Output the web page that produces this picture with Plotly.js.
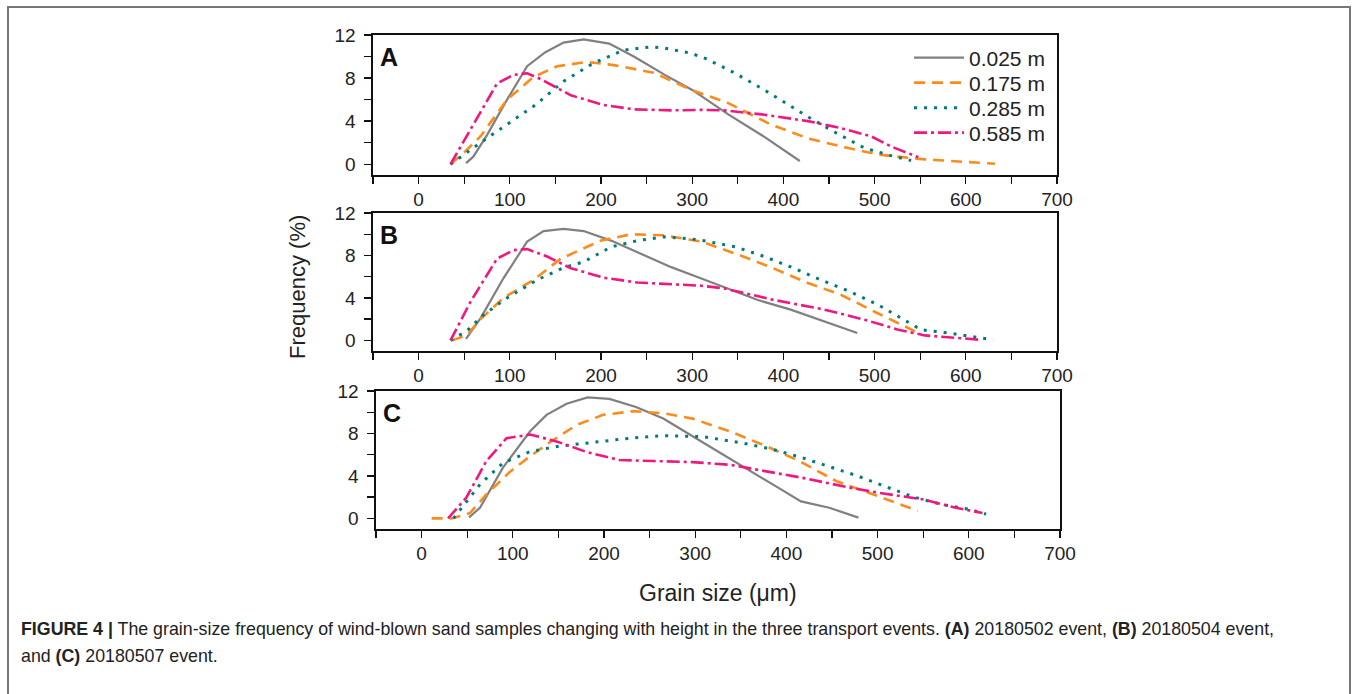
<!DOCTYPE html>
<html>
<head>
<meta charset="utf-8">
<script src="https://cdn.plot.ly/plotly-3.0.1.min.js"></script>
<style>html,body{margin:0;padding:0;background:#fff;}#chart{width:1356px;height:694px;}</style>
</head>
<body>
<div id="chart"></div>
<script>
// ---------- data (grain size in µm, frequency in %) ----------
const seriesNames = ['0.025 m', '0.175 m', '0.285 m', '0.585 m'];
const panelLabels = ['A', 'B', 'C'];
const xTickVals = [0, 100, 200, 300, 400, 500, 600, 700];
const yTickVals = [0, 4, 8, 12];

// Panel A (20180502 event)
const A025x = [52, 60, 75, 97, 119, 139, 159, 181, 209, 236, 270, 300, 340, 380, 418];
const A025y = [0.1, 0.7, 2.7, 6.0, 9.1, 10.4, 11.3, 11.6, 11.2, 10.0, 8.3, 6.9, 4.6, 2.5, 0.3];
const A175x = [35, 50, 68, 97, 126, 152, 185, 214, 258, 299, 339, 386, 427, 471, 504, 548, 592, 632];
const A175y = [0, 1.1, 2.6, 6.0, 8.1, 9.1, 9.5, 9.2, 8.5, 6.9, 5.7, 3.7, 2.4, 1.5, 0.9, 0.5, 0.25, 0.05];
const A285x = [35, 51, 68, 97, 128, 159, 192, 225, 255, 269, 299, 315, 346, 379, 408, 427, 458, 489, 518, 540];
const A285y = [0, 1.0, 2.0, 3.7, 5.5, 7.7, 9.4, 10.6, 10.9, 10.8, 10.3, 9.8, 8.5, 6.9, 5.4, 4.4, 2.9, 1.5, 0.8, 0.35];
const A585x = [35, 57, 86, 104, 119, 134, 167, 203, 236, 277, 310, 335, 379, 427, 463, 496, 518, 548];
const A585y = [0, 3.2, 7.5, 8.3, 8.45, 7.9, 6.4, 5.5, 5.1, 5.0, 5.05, 5.0, 4.6, 4.0, 3.35, 2.6, 1.65, 0.65];

// Panel B (20180504 event)
const B025x = [52, 68, 93, 119, 137, 159, 181, 211, 240, 277, 305, 343, 372, 408, 445, 481];
const B025y = [0.15, 2.1, 5.85, 9.3, 10.3, 10.5, 10.3, 9.4, 8.3, 6.9, 6.0, 4.75, 3.8, 2.9, 1.8, 0.7];
const B175x = [37, 53, 68, 93, 126, 156, 200, 233, 269, 310, 353, 386, 427, 463, 500, 522, 548];
const B175y = [0, 0.5, 2.0, 4.0, 5.7, 7.7, 9.4, 10.0, 9.9, 9.3, 8.0, 6.9, 5.4, 4.3, 2.7, 1.8, 0.7];
const B285x = [35, 53, 71, 97, 130, 159, 181, 211, 240, 269, 306, 348, 379, 410, 441, 473, 504, 535, 551, 581, 614, 630];
const B285y = [0, 0.9, 2.4, 4.0, 5.7, 6.85, 7.4, 8.8, 9.4, 9.75, 9.5, 8.8, 7.9, 6.85, 5.7, 4.6, 3.35, 1.8, 1.0, 0.7, 0.3, 0.05];
const B585x = [35, 57, 86, 104, 119, 141, 167, 203, 240, 277, 310, 335, 390, 445, 489, 526, 555, 592, 614];
const B585y = [0, 3.65, 7.7, 8.5, 8.6, 7.9, 6.8, 5.9, 5.45, 5.3, 5.15, 4.9, 3.8, 2.9, 1.95, 1.0, 0.47, 0.22, 0.07];

// Panel C (20180507 event)
const C025x = [52, 64, 89, 119, 137, 159, 182, 206, 235, 265, 294, 349, 385, 416, 447, 479];
const C025y = [0.1, 1.0, 4.75, 8.2, 9.75, 10.8, 11.4, 11.25, 10.5, 9.4, 7.9, 5.1, 3.2, 1.6, 1.0, 0.07];
const C175x = [11, 33, 53, 71, 97, 119, 142, 170, 199, 232, 265, 297, 338, 378, 414, 455, 491, 520, 544];
const C175y = [0, 0, 0.5, 2.25, 4.4, 5.85, 7.25, 8.8, 9.75, 10.1, 9.9, 9.4, 8.2, 6.8, 5.4, 3.5, 2.4, 1.5, 0.7];
const C285x = [35, 49, 64, 89, 119, 151, 181, 228, 265, 294, 308, 352, 385, 416, 447, 478, 510, 540, 571, 601, 619];
const C285y = [0, 1.5, 3.2, 5.2, 6.3, 6.8, 7.1, 7.55, 7.8, 7.7, 7.7, 7.1, 6.5, 5.75, 4.9, 4.0, 2.95, 2.0, 1.3, 0.85, 0.4];
const C585x = [29, 49, 71, 93, 119, 148, 181, 217, 254, 297, 338, 367, 422, 469, 502, 549, 586, 615];
const C585y = [0, 1.95, 5.4, 7.55, 7.9, 7.25, 6.25, 5.5, 5.4, 5.3, 5.05, 4.6, 3.75, 2.9, 2.4, 1.8, 1.0, 0.5];

const captionLine1 = '<b>FIGURE 4 |</b> The grain-size frequency of wind-blown sand samples changing with height in the three transport events. <b>(A)</b> 20180502 event, <b>(B)</b> 20180504 event,';
const captionLine2 = 'and <b>(C)</b> 20180507 event.';

// ---------- styling ----------
const W = 1356, H = 694;
const FONT = 'Liberation Sans, Arial, Helvetica, sans-serif';
const PX = p => p / W;
const PY = p => 1 - p / H;

const lineStyles = [
  {color: '#808080', width: 2.2, dash: 'solid'},
  {color: '#fb8c1c', width: 2.6, dash: '11px,7px'},
  {color: '#007b7b', width: 3, dash: '3px,7px'},
  {color: '#f0187f', width: 2.6, dash: '13px,4px,3px,4px'}
];
const legendRows = [58, 83, 108, 133];
const legendIds = ['legend', 'legend2', 'legend3', 'legend4'];

const panels = [
  {xs: [A025x, A175x, A285x, A585x], ys: [A025y, A175y, A285y, A585y], top: 35, bottom: 175, left: 373, right: 1057},
  {xs: [B025x, B175x, B285x, B585x], ys: [B025y, B175y, B285y, B585y], top: 213, bottom: 351, left: 373, right: 1057},
  {xs: [C025x, C175x, C285x, C585x], ys: [C025y, C175y, C285y, C585y], top: 391, bottom: 529, left: 376, right: 1060}
];

const traces = [];
const layout = {
  width: W, height: H,
  margin: {l: 0, r: 0, t: 0, b: 0},
  paper_bgcolor: '#fff', plot_bgcolor: '#fff',
  font: {family: FONT, color: '#222', size: 19},
  showlegend: true,
  annotations: [], shapes: []
};
legendIds.forEach((id, k) => {
  layout[id] = {
    x: PX(909), y: PY(legendRows[k]), xanchor: 'left', yanchor: 'middle',
    bgcolor: 'rgba(0,0,0,0)', borderwidth: 0,
    font: {family: FONT, size: 21, color: '#222'},
    itemwidth: 50
  };
});

panels.forEach((p, i) => {
  const sfx = i === 0 ? '' : String(i + 1);
  p.xs.forEach((xv, k) => {
    traces.push({
      type: 'scatter', mode: 'lines',
      x: xv, y: p.ys[k],
      name: seriesNames[k],
      showlegend: i === 0,
      legend: legendIds[k],
      legendgroup: seriesNames[k],
      line: lineStyles[k],
      xaxis: 'x' + sfx, yaxis: 'y' + sfx,
      hoverinfo: 'skip'
    });
  });
  const common = {
    showgrid: false, zeroline: false,
    showline: true, linecolor: '#111', linewidth: 1.6, mirror: true,
    ticks: 'outside', ticklen: 7, tickwidth: 1.4, tickcolor: '#111',
    tickfont: {family: FONT, size: 19, color: '#222'}
  };
  layout['xaxis' + sfx] = Object.assign({}, common, {
    domain: [PX(p.left), PX(p.right)],
    range: [-50, 700],
    tickvals: xTickVals,
    minor: {dtick: 50, tick0: 0, ticks: 'outside', ticklen: 7, tickwidth: 1.4, tickcolor: '#111', showgrid: false},
    anchor: 'y' + sfx, fixedrange: true
  });
  layout['yaxis' + sfx] = Object.assign({}, common, {
    domain: [PY(p.bottom), PY(p.top)],
    range: [-1, 12],
    tickvals: yTickVals,
    ticklabelstandoff: 5,
    minor: {dtick: 2, tick0: 0, ticks: 'outside', ticklen: 7, tickwidth: 1.4, tickcolor: '#111', showgrid: false},
    anchor: 'x' + sfx, fixedrange: true
  });
  layout.annotations.push({
    text: '<b>' + panelLabels[i] + '</b>', xref: 'paper', yref: 'paper',
    x: PX(p.left + 5), y: PY(p.top + 22), xanchor: 'left', yanchor: 'middle',
    showarrow: false, font: {family: FONT, size: 25, color: '#111'}
  });
});

// axis titles
layout.annotations.push({
  text: 'Frequency (%)', xref: 'paper', yref: 'paper',
  x: PX(297), y: PY(287), textangle: -90, xanchor: 'center', yanchor: 'middle',
  showarrow: false, font: {family: FONT, size: 22, color: '#222'}
});
layout.annotations.push({
  text: 'Grain size (\u03bcm)', xref: 'paper', yref: 'paper',
  x: PX(718), y: PY(593), xanchor: 'center', yanchor: 'middle',
  showarrow: false, font: {family: FONT, size: 23, color: '#222'}
});
// caption
layout.annotations.push({
  text: captionLine1, xref: 'paper', yref: 'paper',
  x: PX(19), y: PY(629), xanchor: 'left', yanchor: 'middle',
  showarrow: false, font: {family: FONT, size: 17.8, color: '#222'}
});
layout.annotations.push({
  text: captionLine2, xref: 'paper', yref: 'paper',
  x: PX(19), y: PY(656), xanchor: 'left', yanchor: 'middle',
  showarrow: false, font: {family: FONT, size: 17.8, color: '#222'}
});
// figure frame
layout.shapes.push({
  type: 'rect', xref: 'paper', yref: 'paper',
  x0: PX(8), x1: PX(1350), y0: PY(700), y1: PY(7),
  line: {color: '#777', width: 2}, fillcolor: 'rgba(0,0,0,0)', layer: 'below'
});

Plotly.newPlot('chart', traces, layout, {staticPlot: true, displayModeBar: false});
</script>
</body>
</html>
